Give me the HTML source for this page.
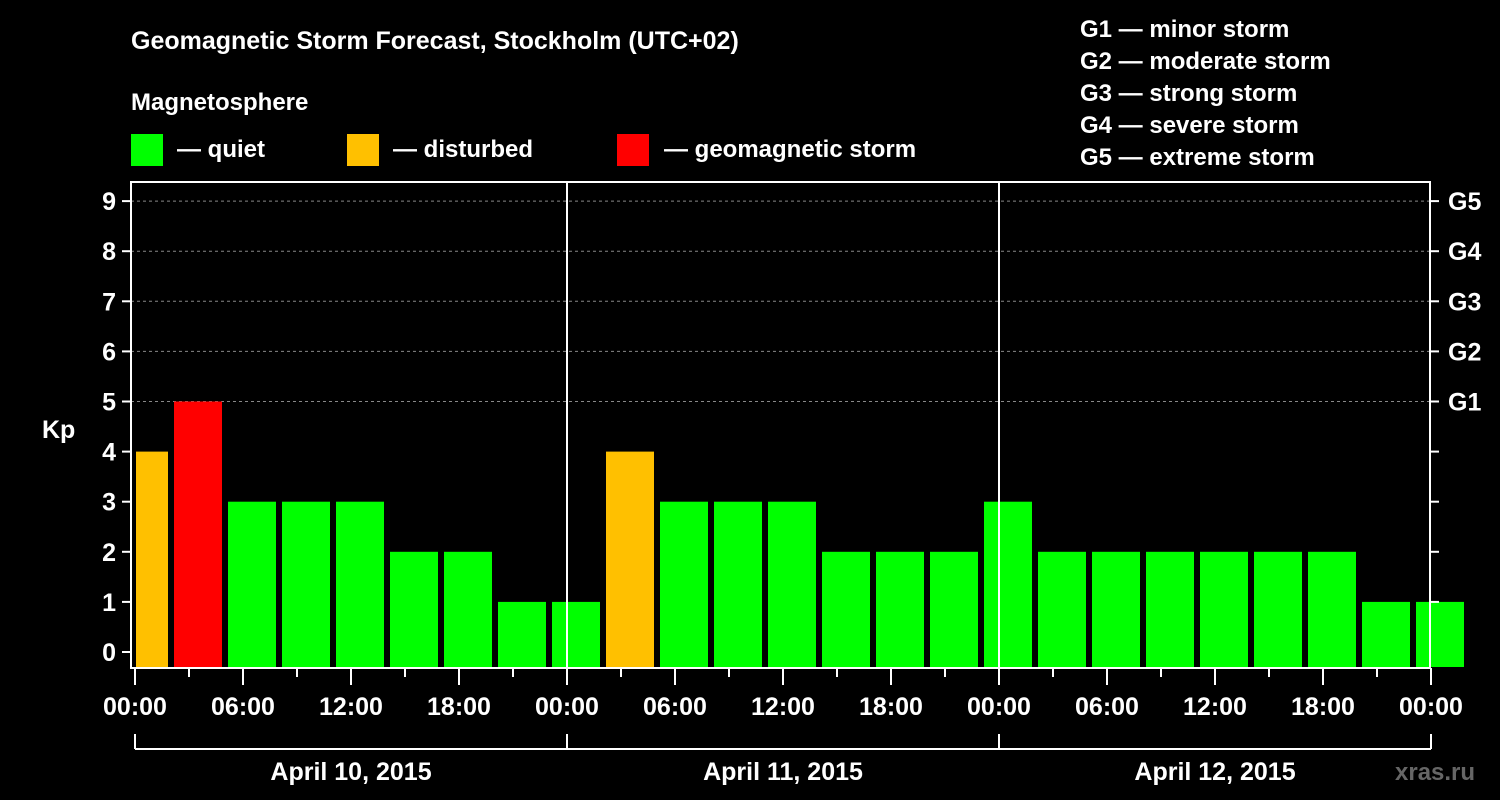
<!DOCTYPE html>
<html><head><meta charset="utf-8"><style>
body{margin:0;background:#000;}
svg{display:block;font-family:"Liberation Sans",Arial,sans-serif;font-weight:bold;fill:#fff;}
</style></head><body>
<svg id="c" width="1500" height="800" viewBox="0 0 1500 800">
<text x="131" y="49" font-size="25" fill="#fff">Geomagnetic Storm Forecast, Stockholm (UTC+02)</text>
<text x="131" y="110" font-size="24" fill="#fff">Magnetosphere</text>
<g><rect x="131" y="134" width="32" height="32" fill="#00ff00"/><text x="177" y="157" font-size="24" fill="#fff">— quiet</text></g>
<g><rect x="347" y="134" width="32" height="32" fill="#ffc000"/><text x="393" y="157" font-size="24" fill="#fff">— disturbed</text></g>
<g><rect x="617" y="134" width="32" height="32" fill="#ff0000"/><text x="664" y="157" font-size="24" fill="#fff">— geomagnetic storm</text></g>
<g font-size="24" fill="#fff">
<text x="1080" y="37">G1 — minor storm</text>
<text x="1080" y="69">G2 — moderate storm</text>
<text x="1080" y="101">G3 — strong storm</text>
<text x="1080" y="133">G4 — severe storm</text>
<text x="1080" y="165">G5 — extreme storm</text>
</g>
<g id="grid"></g><g id="bars"></g><g id="axes"></g>
<text x="1395" y="780" font-size="24" fill="#666">xras.ru</text>
</svg>
<script>
const kpValues=[4,5,3,3,3,2,2,1,1,4,3,3,3,2,2,2,3,2,2,2,2,2,2,1,1];
const leftTicks=[0,1,2,3,4,5,6,7,8,9];
const gLabels=["","","","","","G1","G2","G3","G4","G5"];
const timeLabels=["00:00","06:00","12:00","18:00"];
const dayLabels=["April 10, 2015","April 11, 2015","April 12, 2015"];
const NS="http://www.w3.org/2000/svg";
const X0=135,DAY=432,L=131,R=1430,T=182,B=668;
const y=k=>652-50.1*k;
const xh=h=>X0+h*DAY/24;
function mk(p,tag,a,txt){const e=document.createElementNS(NS,tag);for(const k in a)e.setAttribute(k,a[k]);if(txt!==undefined)e.textContent=txt;document.getElementById(p).appendChild(e);return e;}
// gridlines
for(let k=5;k<=9;k++){const e=mk('grid','line',{x1:L,x2:R,y1:y(k),y2:y(k),stroke:'#888','stroke-dasharray':'3,3','stroke-width':1});

}
// bars
kpValues.forEach((v,i)=>{const x1=Math.max(xh(3*i)-15,X0+1),x2=xh(3*i)+33;
const col=v>=5?'#ff0000':(v>=4?'#ffc000':'#00ff00');
const e=mk('bars','rect',{x:x1,y:y(v),width:x2-x1,height:B-1-y(v),fill:col});

});
// frame
const f=mk('axes','rect',{x:L,y:T,width:R-L,height:B-T,fill:'none',stroke:'#fff','stroke-width':2});


for(let d=1;d<3;d++){const e=mk('axes','line',{x1:xh(24*d),x2:xh(24*d),y1:T,y2:B,stroke:'#fff','stroke-width':2});

}
leftTicks.forEach(k=>{mk('axes','line',{x1:122,x2:L,y1:y(k),y2:y(k),stroke:'#fff','stroke-width':2});
const t=mk('axes','text',{x:116,y:y(k)+9,'font-size':25,'text-anchor':'end',fill:'#fff'},String(k));


if(k>0)mk('axes','line',{x1:R,x2:R+9,y1:y(k),y2:y(k),stroke:'#fff','stroke-width':2});
if(gLabels[k]){const g=mk('axes','text',{x:1448,y:y(k)+9,'font-size':25,fill:'#fff'},gLabels[k]);

}});
const kp=mk('axes','text',{x:42,y:438,'font-size':25,fill:'#fff'},'Kp');


for(let h=0;h<=72;h+=3){const big=h%6===0;mk('axes','line',{x1:xh(h),x2:xh(h),y1:B,y2:big?685:677,stroke:'#fff','stroke-width':2});
if(big){const t=mk('axes','text',{x:xh(h),y:715,'font-size':25,'text-anchor':'middle',fill:'#fff'},timeLabels[(h/6)%4]);

}}
mk('axes','line',{x1:X0,x2:xh(72),y1:749,y2:749,stroke:'#fff','stroke-width':2});
for(let d=0;d<=3;d++)mk('axes','line',{x1:xh(24*d),x2:xh(24*d),y1:734,y2:749,stroke:'#fff','stroke-width':2});
dayLabels.forEach((s,d)=>{const t=mk('axes','text',{x:xh(24*d+12),y:780,'font-size':25,'text-anchor':'middle',fill:'#fff'},s);

});
</script>
</body></html>
